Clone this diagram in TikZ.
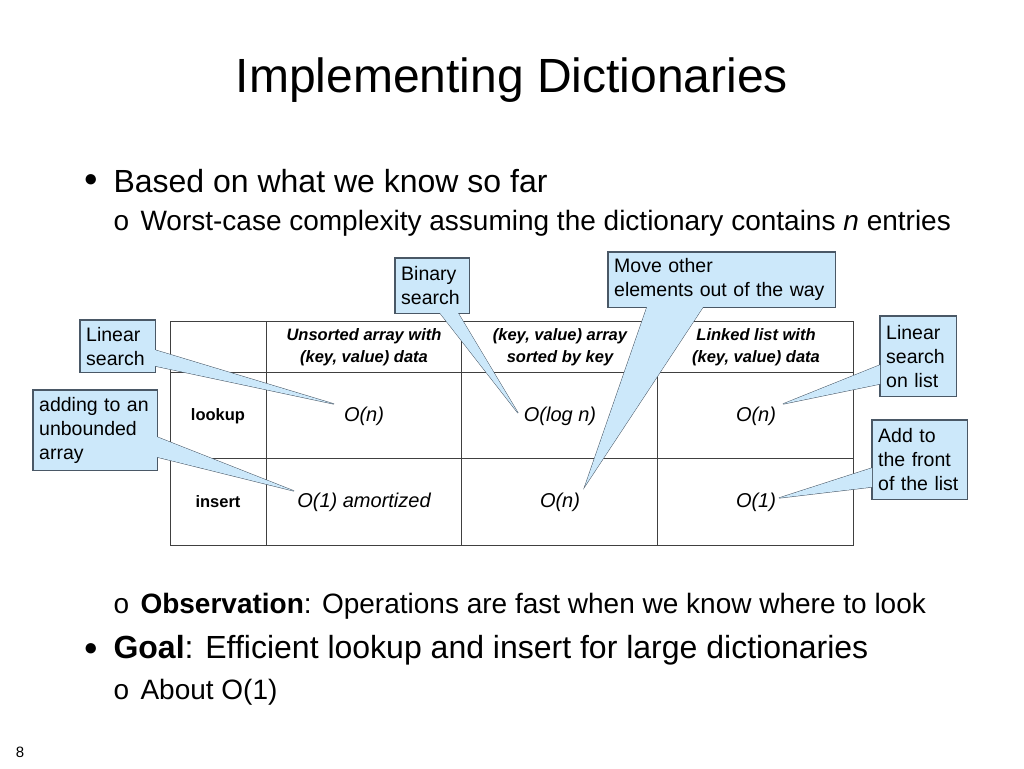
\documentclass[tikz,border=0pt]{standalone}
\usepackage{fontspec}
\setmainfont{Liberation Sans}
\usetikzlibrary{positioning}
\definecolor{callfill}{HTML}{CCE8FA}
\definecolor{calldraw}{HTML}{4A5866}
\tikzset{
  callbox/.style={fill=callfill,anchor=north west,align=left,
    inner xsep=6pt,inner ysep=3pt,font=\fontsize{19.5}{24}\selectfont},
  tail/.style={draw=calldraw,fill=callfill,line width=1pt,line join=miter},
  cellhead/.style={font=\fontsize{16.5}{22}\selectfont\bfseries\itshape,align=center},
  cellrow/.style={font=\fontsize{16.5}{18}\selectfont\bfseries},
  cellval/.style={font=\fontsize{20}{22}\selectfont\itshape},
  bodyA/.style={anchor=west,font=\fontsize{32}{36}\selectfont},
  bodyB/.style={anchor=west,font=\fontsize{28}{32}\selectfont}
}
% callout: name, corner, width, height, text, tip, base1, base2
\newcommand{\callout}[8]{%
  \coordinate (#1-tip) at #6;
  \path[tail] #7 -- (#1-tip) -- #8 -- cycle;
  \node[callbox,text width=#3-12pt,minimum height=#4] (#1) at #2 {#5};
  \draw[calldraw,line width=1.5pt] (#1.north west) rectangle (#1.south east);
  \fill[callfill] #7 -- (#1-tip) -- #8 -- cycle;
}
\newcommand{\bigdot}{{\fontsize{24}{24}\selectfont●}}
\begin{document}
\begin{tikzpicture}[x=1pt,y=-1pt]
  \useasboundingbox (0,0) rectangle (1024,768);
  \node[font=\fontsize{48}{54}\selectfont] (title) at (512,80) {Implementing Dictionaries};

  \node[anchor=west] (d1) at (80,181) {\bigdot};
  \node[bodyA] (b1) at (110,181) {Based on what we know so far};
  \node[bodyB] (o1) at (110,223) {o};
  \node[bodyB] (s1) at (137,223) {Worst-case complexity assuming the dictionary contains \emph{n} entries};

  % table
  \draw[line width=1pt,draw=black!75] (170,321) rectangle (853,545);
  \foreach \x in {266,461,657} \draw[line width=1pt,draw=black!75] (\x,321) -- (\x,545);
  \foreach \y in {372,458} \draw[line width=1pt,draw=black!75] (170,\y) -- (853,\y);
  \node[cellhead] (h1) at (364,347) {Unsorted array with\\(key, value) data};
  \node[cellhead] (h2) at (560,347) {(key, value) array\\sorted by key};
  \node[cellhead] (h3) at (756,347) {Linked list with\\(key, value) data};
  \node[cellrow] (rl) at (218,416) {lookup};
  \node[cellrow] (ri) at (218,502) {insert};
  \node[cellval] (v11) at (364,416) {O(n)};
  \node[cellval] (v12) at (560,416) {O(log n)};
  \node[cellval] (v13) at (756,416) {O(n)};
  \node[cellval] (v21) at (364,502) {O(1) amortized};
  \node[cellval] (v22) at (560,502) {O(n)};
  \node[cellval] (v23) at (756,502) {O(1)};

  % callouts
  \callout{lin}{(80,320)}{75pt}{52pt}{Linear\\search}{(334,404)}{(155,350)}{(155,366)}
  \callout{add}{(33,390)}{124pt}{80pt}{adding to an\\unbounded\\array}{(294,491)}{(157,437)}{(157,457)}
  \callout{bin}{(395,258)}{74pt}{55pt}{Binary\\search}{(518,413)}{(440,313)}{(458,313)}
  \callout{mov}{(608,252)}{227pt}{55pt}{Move other\\elements out of the way}{(585,486)}{(647,307)}{(703,307)}
  \callout{lst}{(880,316)}{76pt}{80pt}{Linear\\search\\on list}{(783,404)}{(880,365)}{(880,384)}
  \callout{frt}{(872,420)}{95pt}{79pt}{Add to\\the front\\of the list}{(779,498)}{(872,468)}{(872,487)}

  \node[bodyB] (o2) at (110,606) {o};
  \node[bodyB] (s2) at (137,606) {\textbf{Observation}: Operations are fast when we know where to look};
  \node[anchor=west] (d2) at (80,650) {\bigdot};
  \node[bodyA] (b2) at (110,650) {\textbf{Goal}: Efficient lookup and insert for large dictionaries};
  \node[bodyB] (o3) at (110,692) {o};
  \node[bodyB] (s3) at (137,692) {About O(1)};
  \node[font=\fontsize{15}{16}\selectfont] (pg) at (20,752) {8};
\end{tikzpicture}
\end{document}
